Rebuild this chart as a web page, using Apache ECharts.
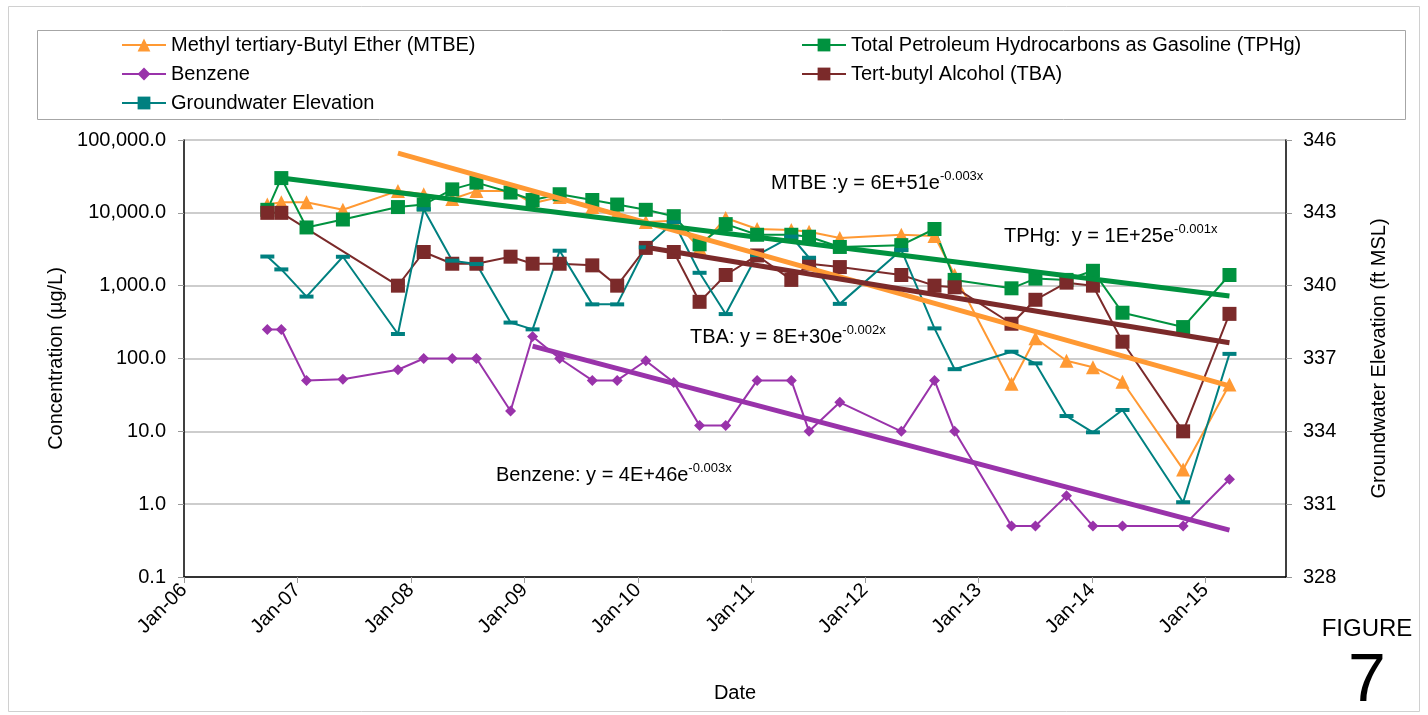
<!DOCTYPE html>
<html>
<head>
<meta charset="utf-8">
<script src="https://cdn.jsdelivr.net/npm/echarts@6/dist/echarts.min.js"></script>
<style>
html,body{margin:0;padding:0;background:#fff;}
#chart{width:1428px;height:715px;}
</style>
</head>
<body>
<div id="chart"></div>
<script>
// ---- Data ----
const sampleDates = ['2006-09-26','2006-11-10','2007-01-30','2007-05-27','2007-11-20','2008-02-11','2008-05-13','2008-07-30','2008-11-17','2009-01-27','2009-04-24','2009-08-07','2009-10-26','2010-01-26','2010-04-26','2010-07-18','2010-10-10','2011-01-19','2011-05-09','2011-07-05','2011-10-12','2012-04-27','2012-08-12','2012-10-16','2013-04-17','2013-07-03','2013-10-11','2014-01-04','2014-04-09','2014-10-21','2015-03-19'];
const mtbe    = [13000,14000,14000,11000,20000,18000,15500,20000,20000,13500,16500,12000,9900,7500,7800,3300,8500,6000,5800,5500,4500,5000,4800,1400,45,190,93,76,48,3.0,44];
const tphg    = [11000,30000,6300,8100,12000,13000,21000,26000,19000,15000,18000,15000,13000,11000,9000,3700,7000,5000,5000,4700,3400,3600,6000,1200,920,1250,1200,1600,425,270,1400];
const benzene = [250,250,50,52,70,100,100,100,19,200,100,50,50,93,47,12,12,50,50,10,25,10,50,10,0.5,0.5,1.3,0.5,0.5,0.5,2.2];
const tba     = [10000,10000,null,null,1000,2900,2000,2000,2500,2000,2000,1900,1000,3300,2900,600,1400,2600,1200,2000,1800,1400,1000,950,300,640,1100,1000,170,10,410];
const gwElev  = [341.2,340.67,339.55,341.19,338.01,343.15,341.03,340.89,338.48,338.2,341.44,339.23,339.23,341.58,342.61,340.53,338.83,341.26,342.02,341.15,339.25,341.47,338.24,336.56,337.28,336.8,334.63,333.96,334.88,331.08,337.19];

// exponential trendlines (straight on log scale): [date, value] endpoints
const mtbeTrend    = [['2007-11-20', 66000], ['2015-03-19', 42]];
const tphgTrend    = [['2006-11-10', 30000], ['2015-03-19', 720]];
const tbaTrend     = [['2010-01-26', 3360],  ['2015-03-19', 165]];
const benzeneTrend = [['2009-01-27', 148],   ['2015-03-19', 0.44]];

const tickYears  = [2006,2007,2008,2009,2010,2011,2012,2013,2014,2015];
const tickLabels = ['Jan-06','Jan-07','Jan-08','Jan-09','Jan-10','Jan-11','Jan-12','Jan-13','Jan-14','Jan-15'];

const names = {
  mtbe: 'Methyl tertiary-Butyl Ether (MTBE)',
  tphg: 'Total Petroleum Hydrocarbons as Gasoline (TPHg)',
  benz: 'Benzene',
  tba:  'Tert-butyl Alcohol (TBA)',
  gw:   'Groundwater Elevation'
};
const colors = {mtbe:'#FF9933', tphg:'#00923F', benz:'#9933AA', tba:'#7B2A2A', gw:'#008080'};

// ---- helpers ----
function toYear(s){
  const d = Date.parse(s + 'T00:00:00Z');
  const y = new Date(d).getUTCFullYear();
  const a = Date.UTC(y,0,1), b = Date.UTC(y+1,0,1);
  return y + (d - a) / (b - a);
}
const xs = sampleDates.map(toYear);
function pairs(vals){ return vals.map((v,i)=>[xs[i], v == null ? '-' : v]); }
function trend(tr){ return tr.map(p=>[toYear(p[0]), p[1]]); }

const FONT = 'Liberation Sans, Arial, sans-serif';
const chart = echarts.init(document.getElementById('chart'));

function lineSeries(key, vals, symbol, size, yIdx){
  return {
    name: names[key], type:'line', yAxisIndex: yIdx || 0,
    data: pairs(vals), connectNulls: true,
    symbol: symbol, symbolSize: size, showSymbol: true,
    lineStyle:{color: colors[key], width: 2},
    itemStyle:{color: colors[key]},
    emphasis:{disabled:true}, z: 3
  };
}
function trendSeries(key, tr){
  return {
    name: names[key] + ' trend', type:'line', data: trend(tr),
    symbol:'none', lineStyle:{color: colors[key], width: 5},
    emphasis:{disabled:true}, z: 4, silent: true
  };
}
function eqText(x, y, main, sup){
  return {
    type:'text', x:x, y:y, z:10,
    style:{
      text: '{a|' + main + '}{b|' + sup + '}',
      verticalAlign:'middle', align:'left', fill:'#000',
      rich:{
        a:{fontSize:20, lineHeight:26, fontFamily:FONT, fill:'#000'},
        b:{fontSize:13, lineHeight:13, verticalAlign:'top', fontFamily:FONT, fill:'#000'}
      }
    }
  };
}

const legendCommon = {
  orient:'vertical', itemWidth:44, itemHeight:16, itemGap:9, padding:0,
  textStyle:{fontSize:20, lineHeight:20, color:'#000', fontFamily:FONT},
  selectedMode:false
};

const option = {
  animation:false,
  backgroundColor:'#fff',
  textStyle:{fontFamily:FONT},
  grid:{left:184, right:142, top:140, bottom:138, outerBoundsMode:'none'},
  legend:[
    Object.assign({left:121, top:35, data:[names.mtbe, names.benz, names.gw]}, legendCommon),
    Object.assign({left:801, top:35, data:[names.tphg, names.tba]}, legendCommon)
  ],
  xAxis:{
    type:'value', min:2006, max:2015.709, interval:1,
    name:'Date', nameLocation:'middle', nameGap:106,
    nameTextStyle:{fontSize:20, color:'#000', fontFamily:FONT},
    axisLine:{show:true, lineStyle:{color:'#000', width:1.5}},
    axisTick:{show:true, length:6, lineStyle:{color:'#999'}},
    splitLine:{show:false},
    axisLabel:{
      rotate:45, fontSize:20, color:'#000', margin:10, showMaxLabel:false,
      formatter:function(v){ const i = tickYears.indexOf(Math.round(v*1000)/1000); return i >= 0 ? tickLabels[i] : ''; }
    }
  },
  yAxis:[
    {
      type:'log', logBase:10, min:0.1, max:100000, position:'left',
      name:'Concentration (µg/L)', nameLocation:'middle', nameGap:114, nameRotate:90,
      nameTextStyle:{fontSize:20, color:'#000', fontFamily:FONT},
      axisLine:{show:true, lineStyle:{color:'#000', width:1.5}},
      axisTick:{show:true, length:6, lineStyle:{color:'#999'}},
      minorTick:{show:false},
      splitLine:{show:true, lineStyle:{color:'#BDBDBD', width:1.5}},
      axisLabel:{fontSize:20, color:'#000', margin:18,
        formatter:function(v){ return Number(v).toLocaleString('en-US',{minimumFractionDigits:1, maximumFractionDigits:1}); }}
    },
    {
      type:'value', min:328, max:346, interval:3, position:'right',
      name:'Groundwater Elevation (ft MSL)', nameLocation:'middle', nameGap:83, nameRotate:90,
      nameTextStyle:{fontSize:20, color:'#000', fontFamily:FONT},
      axisLine:{show:true, lineStyle:{color:'#000', width:1.5}},
      axisTick:{show:true, length:6, lineStyle:{color:'#999'}},
      splitLine:{show:false},
      axisLabel:{fontSize:20, color:'#000', margin:17}
    }
  ],
  series:[
    lineSeries('mtbe', mtbe, 'triangle', 14),
    lineSeries('tphg', tphg, 'rect', 14),
    lineSeries('benz', benzene, 'diamond', 11),
    lineSeries('tba', tba, 'rect', 14),
    lineSeries('gw', gwElev, 'rect', [14,4], 1),
    trendSeries('mtbe', mtbeTrend),
    trendSeries('tphg', tphgTrend),
    trendSeries('tba', tbaTrend),
    trendSeries('benz', benzeneTrend)
  ],
  graphic:[
    {type:'rect', shape:{x:8.5, y:6.5, width:1411, height:705}, style:{fill:'none', stroke:'#D0D0D0', lineWidth:1}, z:-1, silent:true},
    {type:'rect', shape:{x:37.5, y:30.5, width:1368, height:89}, style:{fill:'none', stroke:'#A6A6A6', lineWidth:1}, z:-1, silent:true},
    eqText(771, 183, 'MTBE :y = 6E+51e', '-0.003x'),
    eqText(1004, 236, 'TPHg:  y = 1E+25e', '-0.001x'),
    eqText(690, 337, 'TBA: y = 8E+30e', '-0.002x'),
    eqText(496, 475, 'Benzene: y = 4E+46e', '-0.003x'),
    {type:'text', x:1367, y:629, style:{text:'FIGURE', fontSize:24, fontFamily:FONT, fill:'#000', align:'center', verticalAlign:'middle'}},
    {type:'text', x:1367, y:682, style:{text:'7', fontSize:68, fontFamily:FONT, fill:'#000', align:'center', verticalAlign:'middle'}}
  ]
};
chart.setOption(option);
</script>
</body>
</html>
